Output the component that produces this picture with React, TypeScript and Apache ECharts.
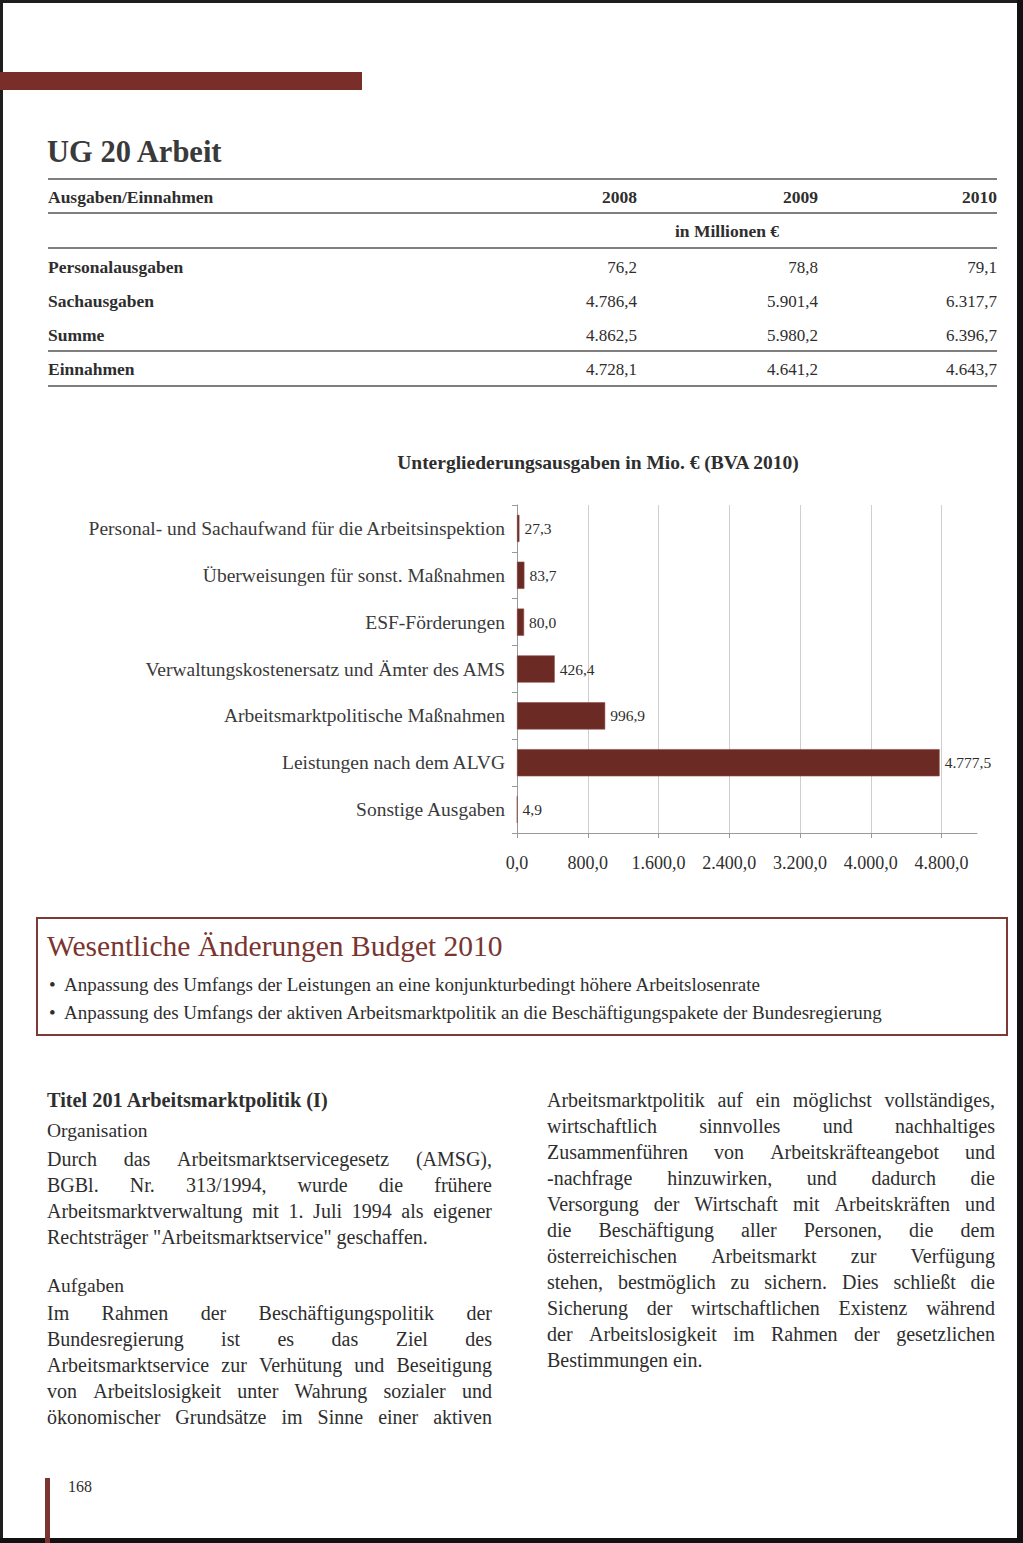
import React, { useEffect, useRef } from "react";
import * as echarts from "echarts";

// ---------- data ----------
const categories = [
  "Personal- und Sachaufwand für die Arbeitsinspektion",
  "Überweisungen für sonst. Maßnahmen",
  "ESF-Förderungen",
  "Verwaltungskostenersatz und Ämter des AMS",
  "Arbeitsmarktpolitische Maßnahmen",
  "Leistungen nach dem ALVG",
  "Sonstige Ausgaben",
];
const values = [27.3, 83.7, 80.0, 426.4, 996.9, 4777.5, 4.9];
const xTickValues = [0, 800, 1600, 2400, 3200, 4000, 4800];

const tableYears = ["2008", "2009", "2010"];
const tableRowLabels = ["Personalausgaben", "Sachausgaben", "Summe", "Einnahmen"];
const personalausgaben = ["76,2", "78,8", "79,1"];
const sachausgaben = ["4.786,4", "5.901,4", "6.317,7"];
const summe = ["4.862,5", "5.980,2", "6.396,7"];
const einnahmen = ["4.728,1", "4.641,2", "4.643,7"];

const boxTitle = "Wesentliche Änderungen Budget 2010";
const boxBullets = [
  "Anpassung des Umfangs der Leistungen an eine konjunkturbedingt höhere Arbeitslosenrate",
  "Anpassung des Umfangs der aktiven Arbeitsmarktpolitik an die Beschäftigungspakete der Bundesregierung",
];

const leftPara1 = [
  "Durch das Arbeitsmarktservicegesetz (AMSG),",
  "BGBl. Nr. 313/1994, wurde die frühere",
  "Arbeitsmarktverwaltung mit 1. Juli 1994 als eigener",
  "Rechtsträger \"Arbeitsmarktservice\" geschaffen.",
];
const leftPara2 = [
  "Im Rahmen der Beschäftigungspolitik der",
  "Bundesregierung ist es das Ziel des",
  "Arbeitsmarktservice zur Verhütung und Beseitigung",
  "von Arbeitslosigkeit unter Wahrung sozialer und",
  "ökonomischer Grundsätze im Sinne einer aktiven",
];
const rightPara = [
  "Arbeitsmarktpolitik auf ein möglichst vollständiges,",
  "wirtschaftlich sinnvolles und nachhaltiges",
  "Zusammenführen von Arbeitskräfteangebot und",
  "-nachfrage hinzuwirken, und dadurch die",
  "Versorgung der Wirtschaft mit Arbeitskräften und",
  "die Beschäftigung aller Personen, die dem",
  "österreichischen Arbeitsmarkt zur Verfügung",
  "stehen, bestmöglich zu sichern. Dies schließt die",
  "Sicherung der wirtschaftlichen Existenz während",
  "der Arbeitslosigkeit im Rahmen der gesetzlichen",
  "Bestimmungen ein.",
];

// ---------- helpers ----------
const FAMILY = "'Liberation Serif', 'DejaVu Serif', serif";
const TEXT = "#2e2e2e";
const RED = "#7a2e2a";

function de(v: number): string {
  const s = v.toFixed(1);
  const [i, d] = s.split(".");
  return i.replace(/\B(?=(\d{3})+(?!\d))/g, ".") + "," + d;
}

let measureCtx: CanvasRenderingContext2D | null = null;
function measure(t: string, size: number, weight = "normal"): number {
  if (!measureCtx) measureCtx = document.createElement("canvas").getContext("2d");
  measureCtx!.font = `${weight} ${size}px ${FAMILY}`;
  return measureCtx!.measureText(t).width;
}

function txt(text: string, x: number, y: number, o: any = {}) {
  return {
    type: "text",
    x,
    y,
    silent: true,
    style: {
      text,
      fill: o.fill || TEXT,
      fontSize: o.size || 16,
      fontFamily: FAMILY,
      fontWeight: o.weight || "normal",
      textAlign: o.align || "left",
      textVerticalAlign: "middle",
    },
  };
}

function justified(lines: string[], x: number, width: number, y0: number, lh: number, size: number, lastLeft: boolean) {
  const out: any[] = [];
  lines.forEach((line, li) => {
    const y = y0 + li * lh;
    const isLast = li === lines.length - 1;
    if (isLast && lastLeft) {
      out.push(txt(line, x, y, { size }));
      return;
    }
    const words = line.split(" ");
    const ws = words.map((w) => measure(w, size));
    const total = ws.reduce((a, b) => a + b, 0);
    const gap = words.length > 1 ? (width - total) / (words.length - 1) : 0;
    let cx = x;
    words.forEach((w, wi) => {
      out.push(txt(w, cx, y, { size }));
      cx += ws[wi] + gap;
    });
  });
  return out;
}

function buildGraphic() {
  const g: any[] = [];
  // scan edges
  g.push({ type: "rect", shape: { x: 0, y: 0, width: 1023, height: 3 }, style: { fill: "#1e1e1e" }, silent: true });
  g.push({ type: "rect", shape: { x: 0, y: 0, width: 3, height: 1543 }, style: { fill: "#1e1e1e" }, silent: true });
  g.push({ type: "rect", shape: { x: 1017, y: 0, width: 6, height: 1543 }, style: { fill: "#111" }, silent: true });
  g.push({ type: "rect", shape: { x: 0, y: 1538, width: 1023, height: 5 }, style: { fill: "#111" }, silent: true });

  // header bar
  g.push({ type: "rect", shape: { x: 0, y: 72, width: 362, height: 18 }, style: { fill: RED }, silent: true });
  g.push(txt("UG 20 Arbeit", 47, 152, { size: 30.5, weight: "bold", fill: "#3a3a3a" }));

  // table
  const L = 48, R = 997;
  const line = (y: number, w = 1.4) => ({
    type: "line", silent: true,
    shape: { x1: L, y1: y, x2: R, y2: y },
    style: { stroke: "#555", lineWidth: w },
  });
  [179, 213, 248, 351, 386].forEach((y) => g.push(line(y)));
  const colX = [637, 818, 997];
  const TS = 17.5;
  g.push(txt("Ausgaben/Einnahmen", L, 197, { size: TS, weight: "bold" }));
  tableYears.forEach((yr, i) => g.push(txt(yr, colX[i], 197, { size: TS, weight: "bold", align: "right" })));
  g.push(txt("in Millionen €", 727, 231, { size: TS, weight: "bold", align: "center" }));
  const rowVals = [personalausgaben, sachausgaben, summe, einnahmen];
  const rowY = [267, 301, 335, 369];
  tableRowLabels.forEach((lab, r) => {
    g.push(txt(lab, L, rowY[r], { size: TS, weight: "bold" }));
    rowVals[r].forEach((v, i) => g.push(txt(v, colX[i], rowY[r], { size: 17, align: "right" })));
  });

  // chart title
  g.push(txt("Untergliederungsausgaben in Mio. € (BVA 2010)", 598, 462, { size: 19.5, weight: "bold", align: "center" }));

  // box
  g.push({ type: "rect", silent: true, shape: { x: 37, y: 918, width: 970, height: 117 }, style: { fill: "none", stroke: "#7d3a35", lineWidth: 2 } });
  g.push(txt(boxTitle, 47, 946, { size: 29.5, fill: "#7a3530" }));
  boxBullets.forEach((b, i) => {
    const y = 984 + i * 28;
    g.push(txt("•", 49, y, { size: 19 }));
    g.push(txt(b, 64, y, { size: 19 }));
  });

  // left column
  g.push(txt("Titel 201 Arbeitsmarktpolitik (I)", 47, 1100, { size: 20.3, weight: "bold" }));
  g.push(txt("Organisation", 47, 1130, { size: 19.5 }));
  g.push(...justified(leftPara1, 47, 445, 1159, 26, 20, true));
  g.push(txt("Aufgaben", 47, 1285, { size: 19.5 }));
  g.push(...justified(leftPara2, 47, 445, 1313, 26, 20, false));
  // right column
  g.push(...justified(rightPara, 547, 448, 1100, 26, 20, true));

  // page number
  g.push({ type: "rect", silent: true, shape: { x: 45, y: 1478, width: 5, height: 65 }, style: { fill: "#7a3530" } });
  g.push(txt("168", 68, 1486, { size: 16 }));
  return g;
}

export default function App() {
  const ref = useRef<HTMLDivElement>(null);
  useEffect(() => {
    if (!ref.current) return;
    const chart = echarts.init(ref.current, null, { renderer: "svg" });
    chart.setOption({
      animation: false,
      backgroundColor: "#ffffff",
      textStyle: { fontFamily: FAMILY },
      grid: { left: 517, right: 46, top: 505, height: 328, containLabel: false, outerBoundsMode: "none" },
      xAxis: {
        type: "value",
        min: 0,
        max: 5200,
        interval: 800,
        axisLine: { show: true, lineStyle: { color: "#9a9a9a", width: 1 } },
        axisTick: { show: true, length: 5, customValues: xTickValues, lineStyle: { color: "#9a9a9a" } },
        axisLabel: {
          customValues: xTickValues,
          formatter: (v: number) => de(v),
          fontSize: 18,
          color: TEXT,
          fontFamily: FAMILY,
          margin: 21,
        },
        splitLine: { show: true, showMinLine: false, lineStyle: { color: "#cfcfcf", width: 1 } },
      },
      yAxis: {
        type: "category",
        inverse: true,
        data: categories,
        axisLine: { show: true, lineStyle: { color: "#9a9a9a", width: 1 } },
        axisTick: { show: true, length: 5, lineStyle: { color: "#9a9a9a" } },
        axisLabel: { fontSize: 19.5, color: "#3a3a3a", fontFamily: FAMILY, margin: 12 },
        splitLine: { show: false },
      },
      series: [
        {
          type: "bar",
          data: values,
          barWidth: "58%",
          itemStyle: { color: "#6c2a24", borderColor: "#8c4a44", borderWidth: 0.6 },
          label: {
            show: true,
            position: "right",
            distance: 5,
            formatter: (p: any) => de(p.value),
            fontSize: 15.5,
            color: TEXT,
            fontFamily: FAMILY,
          },
        },
      ],
      graphic: buildGraphic(),
    });
    return () => chart.dispose();
  }, []);
  return (
    <div
      ref={ref}
      style={{ position: "absolute", left: 0, top: 0, width: 1023, height: 1543, background: "#fff" }}
    />
  );
}
